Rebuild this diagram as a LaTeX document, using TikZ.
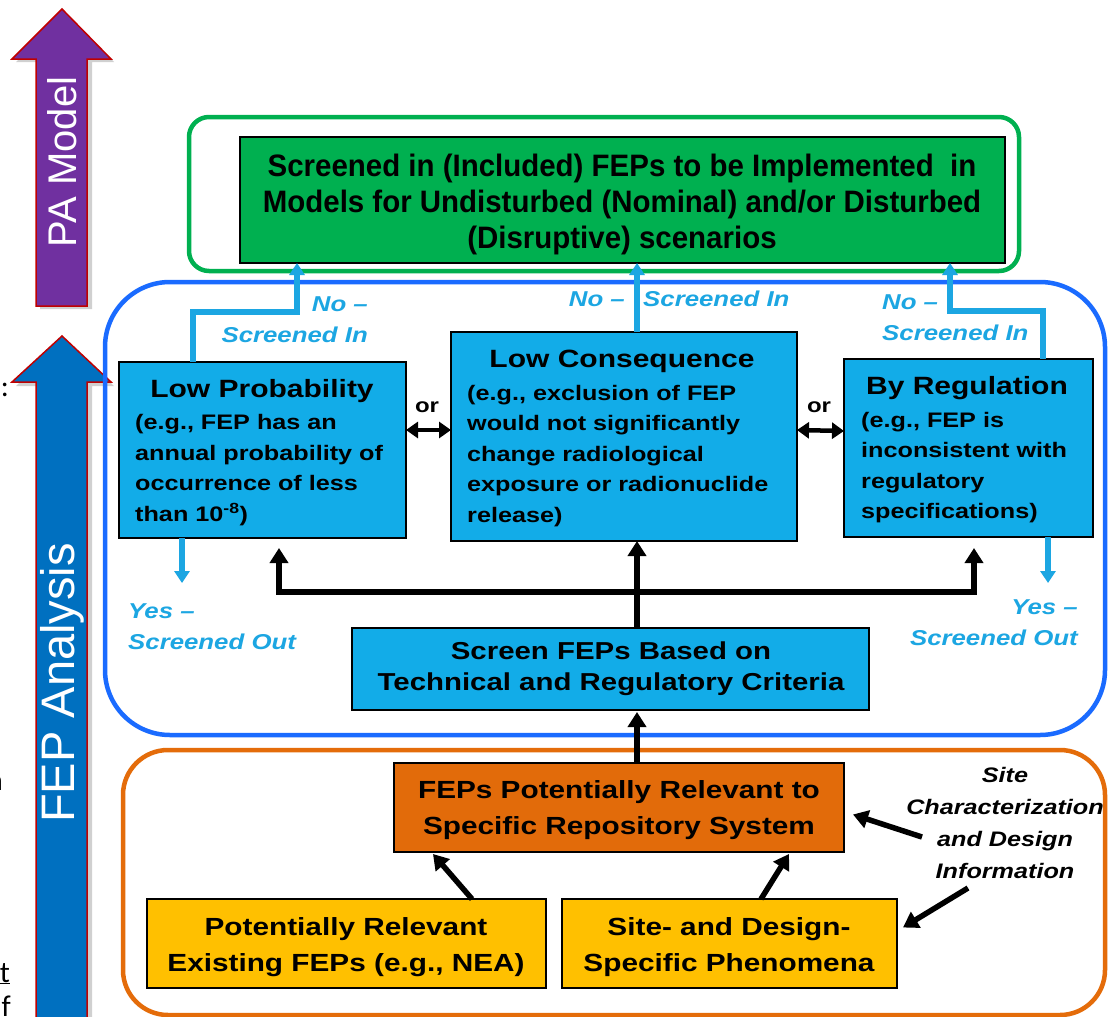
\documentclass[tikz,border=0pt]{standalone}
\usepackage{fontspec}
\setmainfont{Liberation Sans}
\newfontfamily\widefont{Liberation Sans}[FakeStretch=1.2]
\newfontfamily\narrowfont{Liberation Sans}[FakeStretch=0.95]
\newfontfamily\carfont{Carlito}
\usetikzlibrary{arrows.meta}
\definecolor{boxblue}{HTML}{12ACE8}
\definecolor{lblue}{HTML}{1CA6E2}
\definecolor{frameblue}{HTML}{1A6BFF}
\definecolor{fgreen}{HTML}{00B050}
\definecolor{forange}{HTML}{E46C0A}
\definecolor{boxorange}{HTML}{E26B0A}
\definecolor{fyellow}{HTML}{FFC000}
\definecolor{purp}{HTML}{7030A0}
\definecolor{arrblue}{HTML}{0070C0}
\definecolor{darkred}{HTML}{C00000}
\newcommand\fsz[2]{\fontsize{#1}{#2}\selectfont}
\tikzset{
  fbox/.style={draw=black, line width=1.6pt, inner sep=0pt, outer sep=0pt, anchor=north west},
  ttl/.style={font=\widefont\bfseries\fsz{25}{30}, inner sep=0pt},
  bodytxt/.style={font=\widefont\bfseries\fsz{21}{30.5}, align=left, inner sep=0pt, anchor=west},
  ctext/.style={font=\widefont\bfseries\fsz{24.8}{36}, align=center, inner sep=0pt},
  lbl/.style={font=\widefont\bfseries\itshape\fsz{21.5}{31}, text=lblue, inner sep=0pt},
  sitetxt/.style={font=\widefont\bfseries\itshape\fsz{21}{32}, align=center, inner sep=0pt},
  ortxt/.style={font=\widefont\bfseries\fsz{20}{24}, inner sep=0pt},
  lbarr/.style={draw=lblue, line width=5.5pt, line join=miter, -{Triangle[width=15pt,length=12pt]}},
  blk/.style={draw=black, line width=5.5pt, line join=miter, -{Triangle[width=18pt,length=15pt]}},
  dbl/.style={draw=black, line width=4.5pt, {Triangle[width=16pt,length=12pt]}-{Triangle[width=16pt,length=12pt]}},
  frm/.style={line width=4.5pt},
  bigarrow/.style={draw=darkred, line width=1.5pt, line join=miter},
  arrtxt/.style={font=\fsz{40}{48}, text=white, rotate=90, inner sep=0pt},
  frag/.style={font=\carfont\fsz{30}{36}, inner sep=0pt}
}
\begin{document}
\begin{tikzpicture}[x=1pt,y=-1pt]
\useasboundingbox (0,0) rectangle (1108,1017);
\fill[white] (0,0) rectangle (1108,1017);

% left fragments of cropped text
\node[frag, anchor=east] (f1) at (9,390) {:};
\node[frag, anchor=east] (f2) at (3,783) {n};
\node[frag, anchor=base east] (f3) at (10,982) {\underline{t}};
\node[frag, anchor=base east] (f4) at (11,1016) {f};

% big side arrows with shadows
\fill[black!30, opacity=.6] (65,13) -- (114,62) -- (92,62) -- (92,309) -- (40,309) -- (40,62) -- (16,62) -- cycle;
\filldraw[bigarrow, fill=purp] (62,9) -- (111,59) -- (87,59) -- (87,306) -- (36,306) -- (36,59) -- (12,59) -- cycle;
\node[arrtxt] (pam) at (62,162) {PA Model};

\fill[black!30, opacity=.6] (65,340) -- (114,386) -- (92,386) -- (92,1030) -- (40,1030) -- (40,386) -- (16,386) -- cycle;
\filldraw[bigarrow, fill=arrblue] (62,336) -- (111,382) -- (87,382) -- (87,1030) -- (36,1030) -- (36,382) -- (12,382) -- cycle;
\node[arrtxt, font=\fsz{47}{56}] (fepa) at (62,683) {FEP Analysis};

% frames
\draw[frm, draw=fgreen, rounded corners=20pt] (189,117) rectangle (1019,271);
\draw[frm, draw=frameblue, rounded corners=65pt] (105,282) rectangle (1105,735);
\draw[frm, draw=forange, rounded corners=45pt] (123,750) rectangle (1105,1015);

% boxes
\node[fbox, fill=fgreen, minimum width=765pt, minimum height=126pt] (top) at (240,137) {};
\node[fbox, fill=boxblue, minimum width=287pt, minimum height=176pt] (lp) at (119,362) {};
\node[fbox, fill=boxblue, minimum width=346pt, minimum height=209pt] (lc) at (451,332) {};
\node[fbox, fill=boxblue, minimum width=249pt, minimum height=178pt] (br) at (844,359) {};
\node[fbox, fill=boxblue, minimum width=517pt, minimum height=82pt] (scr) at (352,628) {};
\node[fbox, fill=boxorange, minimum width=450pt, minimum height=89pt] (fepr) at (394,763) {};
\node[fbox, fill=fyellow, minimum width=399pt, minimum height=89pt] (prel) at (147,899) {};
\node[fbox, fill=fyellow, minimum width=335pt, minimum height=89pt] (sdp) at (562,899) {};

% box texts
\node[font=\narrowfont\bfseries\fsz{31}{36}, align=center, inner sep=0pt] (toptxt) at (622,204)
  {Screened in (Included) FEPs to be Implemented\ \ in\\Models for Undisturbed (Nominal) and/or Disturbed\\(Disruptive) scenarios};
\node[ttl] (lpt) at (262,391) {Low Probability};
\node[bodytxt] (lpb) at (135,470) {(e.g., FEP has an\\annual probability of\\occurrence of less\\than 10\textsuperscript{-8})};
\node[ttl] (lct) at (622,361) {Low Consequence};
\node[bodytxt] (lcb) at (467,456) {(e.g., exclusion of FEP\\would not significantly\\change radiological\\exposure or radionuclide\\release)};
\node[ttl] (brt) at (967,388) {By Regulation};
\node[bodytxt] (brb) at (861,467.5) {(e.g., FEP is\\inconsistent with\\regulatory\\specifications)};
\node[ctext, font=\widefont\bfseries\fsz{24.5}{31}] (scrt) at (611,669) {Screen FEPs Based on\\Technical and Regulatory Criteria};
\node[ctext] (feprt) at (619,810) {FEPs Potentially Relevant to\\Specific Repository System};
\node[ctext] (prelt) at (346,947) {Potentially Relevant\\Existing FEPs (e.g., NEA)};
\node[ctext] (sdpt) at (729,947) {Site- and Design-\\Specific Phenomena};

% or labels
\node[ortxt] (or1) at (427,407) {or};
\node[ortxt] (or2) at (819,407) {or};
\draw[dbl] ([yshift=20pt]lp.east) -- ([yshift=6.5pt]lc.west);
\draw[dbl] ([yshift=6.5pt]lc.east) -- ([yshift=17pt]br.west);

% screened-in connectors
\draw[lbarr] ([xshift=74pt]lp.north west) -- ++(0,-50) -| ([xshift=57pt]top.south west);
\draw[lbarr] ([xshift=186pt]lc.north west) -- ([xshift=397pt]top.south west);
\draw[lbarr] ([xshift=199pt]br.north west) -- ++(0,-48) -| ([xshift=710pt]top.south west);
\node[lbl, align=right, anchor=east] (ni1) at (368,319.5) {No –\\Screened In};
\node[lbl, anchor=east] (ni2a) at (625,299) {No –};
\node[lbl, anchor=west] (ni2b) at (643,299) {Screened In};
\node[lbl, align=left, anchor=west] (ni3) at (882,317.5) {No –\\Screened In};

% screened-out connectors
\draw[lbarr] ([xshift=63pt]lp.south west) -- ++(0,45);
\draw[lbarr] ([xshift=204pt]br.south west) -- ++(0,46);
\node[lbl, align=left, anchor=west] (so1) at (128,626.5) {Yes –\\Screened Out};
\node[lbl, align=right, anchor=east] (so2) at (1078,623) {Yes –\\Screened Out};

% screening connectors
\coordinate (lpin) at ([xshift=160pt]lp.south west);
\coordinate (brin) at ([xshift=130pt]br.south west);
\coordinate (lcin) at ([xshift=186pt]lc.south west);
\coordinate (scrout) at ([xshift=285pt]scr.north west);
\coordinate (jn) at ([yshift=36pt]scrout);
\draw[blk] (scrout) -- (lcin);
\draw[blk, {Triangle[width=18pt,length=15pt]}-{Triangle[width=18pt,length=15pt]}] ([yshift=-10pt]lpin) |- (jn) -| ([yshift=-11pt]brin);
\draw[blk] (fepr.north -| scrout) -- ([yshift=-2pt]scr.south -| scrout);

% lower connectors
\draw[blk] ([xshift=325pt]prel.north west) -- ([xshift=39pt,yshift=-2pt]fepr.south west);
\draw[blk] ([xshift=199pt]sdp.north west) -- ([xshift=395pt,yshift=-2pt]fepr.south west);

% site characterization
\node[sitetxt] (site) at (1005,823) {Site\\Characterization\\and Design\\Information};
\coordinate (s1) at (922,837);
\coordinate (s2) at (968,888);
\draw[blk] (s1) -- ([xshift=9pt,yshift=-7pt]fepr.east);
\draw[blk] (s2) -- ([xshift=6pt,yshift=16pt]sdp.east);
\end{tikzpicture}
\end{document}
